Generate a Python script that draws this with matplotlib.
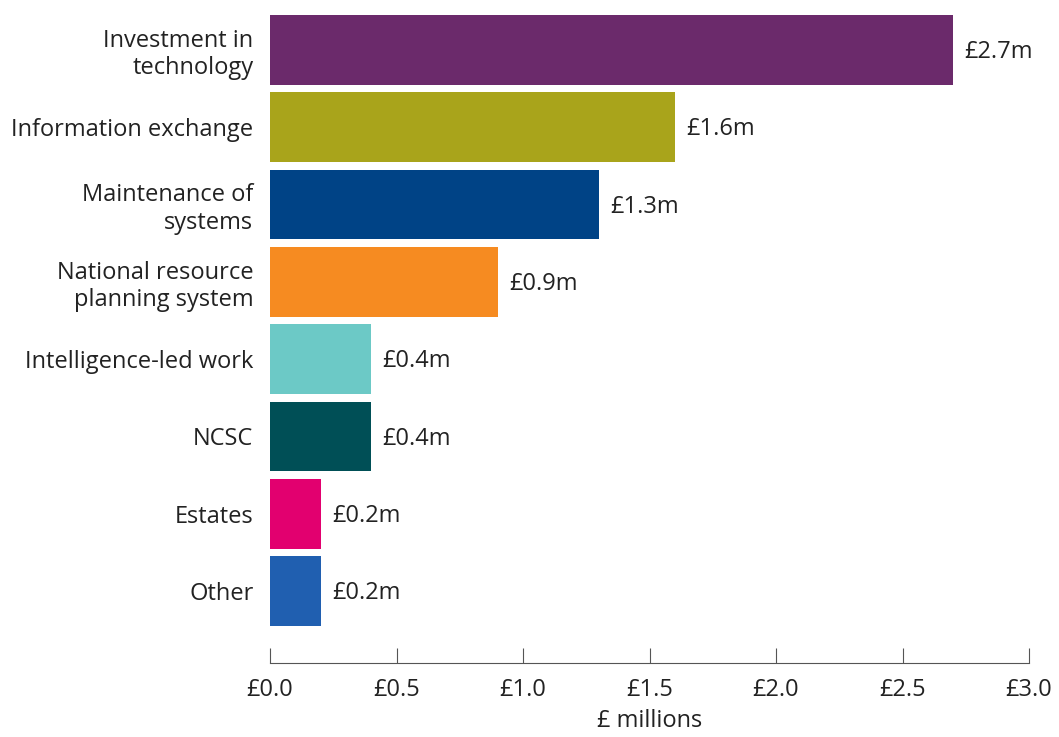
import matplotlib.pyplot as plt

categories = ["Investment in\ntechnology", "Information exchange", "Maintenance of\nsystems",
              "National resource\nplanning system", "Intelligence-led work", "NCSC",
              "Estates", "Other"]
values = [2.7, 1.6, 1.3, 0.9, 0.4, 0.4, 0.2, 0.2]
value_labels = ["£2.7m", "£1.6m", "£1.3m", "£0.9m", "£0.4m", "£0.4m", "£0.2m", "£0.2m"]
ticks = [0.0, 0.5, 1.0, 1.5, 2.0, 2.5, 3.0]
tick_labels = ["£0.0", "£0.5", "£1.0", "£1.5", "£2.0", "£2.5", "£3.0"]
colors = ["#6b2a6b", "#a9a41b", "#004386", "#f68b21", "#6cc9c6", "#004f56", "#e2006f", "#205fb0"]

plt.rcParams['font.family'] = ['Open Sans', 'DejaVu Sans']
txt = "#222222"
fs = 17

fig = plt.figure(figsize=(10.59, 7.37), dpi=100)
ax = fig.add_axes([0.255, 0.1004, 0.7167, 0.8792])

pos = list(range(len(values)))
ax.barh(pos, values, height=0.9, color=colors)
for p, v, lab in zip(pos, values, value_labels):
    ax.text(v + 0.045, p + 0.03, lab, va='center', ha='left', fontsize=fs, color=txt)

ax.set_ylim(7.93, -0.45)
ax.set_xlim(0, 3.0)
ax.set_yticks(pos)
ax.set_yticklabels(categories, fontsize=fs, color=txt, linespacing=1.2)
ax.tick_params(axis='y', length=0, pad=12)
ax.set_xticks(ticks)
ax.set_xticklabels(tick_labels, fontsize=fs, color=txt)
ax.tick_params(axis='x', direction='in', length=11, width=0.8, color='#555555', pad=11)
ax.set_xlabel("£ millions", fontsize=fs, color=txt, labelpad=5)

for s in ['top', 'right', 'left']:
    ax.spines[s].set_visible(False)
ax.spines['bottom'].set_color('#555555')
ax.spines['bottom'].set_linewidth(0.8)

fig.savefig("out.png", dpi=100)
